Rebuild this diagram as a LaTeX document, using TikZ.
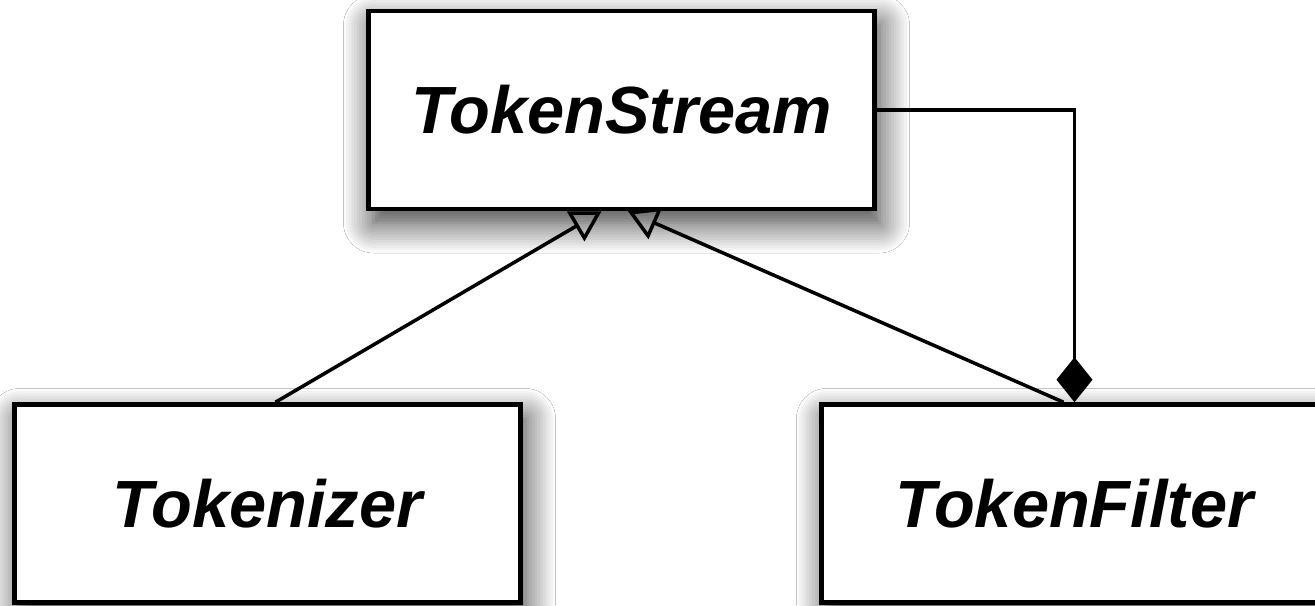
\documentclass[tikz,border=0pt]{standalone}
\usepackage{fontspec}
\setmainfont{Liberation Sans}
\usetikzlibrary{arrows.meta,positioning,shadows.blur}

\begin{document}
\begin{tikzpicture}[
    classbox/.style={rectangle,draw,line width=1.3pt,fill=white,inner sep=0pt,
        minimum width=5.06cm,minimum height=1.98cm,
        font=\fontsize{19}{23}\selectfont\bfseries\itshape,
        blur shadow={shadow xshift=0.05cm,shadow yshift=-0.14cm,shadow blur radius=0.3cm,
            shadow blur steps=12,shadow opacity=80}},
    inherits/.style={line width=1pt,-{Triangle[open,length=0.3cm,width=0.34cm]}},
    owns/.style={line width=1pt,-{Diamond[length=0.45cm,width=0.36cm]}}
]
    % Canvas
    \useasboundingbox (0,0) rectangle (13.15,6.05);
    \fill[white] (0,0) rectangle (13.15,6.05);
    \clip (0,0) rectangle (13.15,6.05);

    % Classes
    \node[classbox] (stream) at (6.215,4.95) {TokenStream};
    \node[classbox] (tokenizer) at (2.675,1.015) {Tokenizer};
    \node[classbox] (filter) at (10.745,1.015) {TokenFilter};

    % Generalisation
    \draw[inherits] ([xshift=0.08cm]tokenizer.north) -- ([xshift=-0.2cm]stream.south);
    \draw[inherits] ([xshift=-0.11cm]filter.north) -- ([xshift=0.065cm]stream.south);

    % Aggregation
    \draw[owns] (stream.east) -| (filter.north);
\end{tikzpicture}
\end{document}
